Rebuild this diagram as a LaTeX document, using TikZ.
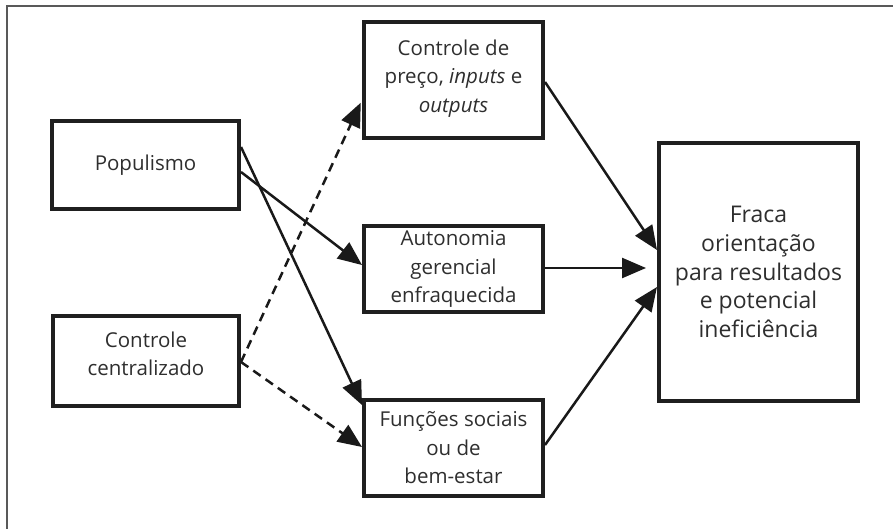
\documentclass[tikz,border=0pt]{standalone}
\usepackage{fontspec}
\setmainfont{Open Sans}
\usetikzlibrary{arrows.meta}
\begin{document}
\begin{tikzpicture}[x=1pt,y=-1pt,
  box/.style={draw=black!88,line width=4pt,inner sep=0pt,align=center,
    text=black!82,font=\fontsize{20.5}{28.5}\selectfont},
  conn/.style={draw=black!90,line width=2.5pt,
    -{Triangle[length=24pt,width=20pt]}},
  dconn/.style={conn,dash pattern=on 9pt off 6pt}]
\useasboundingbox (0,0) rectangle (893,529);
\draw[black!65,line width=2pt] (7,529) -- (7,6) -- (893,6);
\node[box,minimum width=187pt,minimum height=88pt] (pop) at (145.5,165) {Populismo};
\node[box,minimum width=186pt,minimum height=90pt] (cen) at (146,361) {Controle\\centralizado\\[-14pt]};
\node[box,minimum width=179pt,minimum height=116pt] (ctrl) at (453.5,80) {Controle de\\preço, \textit{inputs} e\\\textit{outputs}\\[-20pt]};
\node[box,minimum width=179pt,minimum height=86pt] (aut) at (453.5,269) {Autonomia\\gerencial\\enfraquecida};
\node[box,minimum width=179pt,minimum height=96pt] (fun) at (453.5,448) {Funções sociais\\ou de\\bem-estar};
\node[box,minimum width=199pt,minimum height=258pt,font=\fontsize{23}{28.8}\selectfont] (fra) at (758.5,272) {Fraca\\orientação\\para resultados\\e potencial\\ineficiência};
\draw[conn] ([yshift=18pt]pop.east) -- ([yshift=43pt]fun.west);
\draw[conn] ([yshift=-7pt]pop.east) -- ([yshift=4pt]aut.west);
\draw[dconn,shorten >=3pt] ([yshift=-1pt]cen.east) -- ([yshift=-20pt]ctrl.west);
\draw[dconn] ([yshift=-1pt]cen.east) -- ([yshift=1pt]fun.west);
\draw[conn] ([yshift=-2pt]ctrl.east) -- ([yshift=22pt]fra.west);
\draw[conn,shorten >=11pt] ([yshift=1pt]aut.east) -- ([yshift=4pt]fra.west);
\draw[conn] ([yshift=3pt]fun.east) -- ([yshift=-15pt]fra.west);
\end{tikzpicture}
\end{document}
